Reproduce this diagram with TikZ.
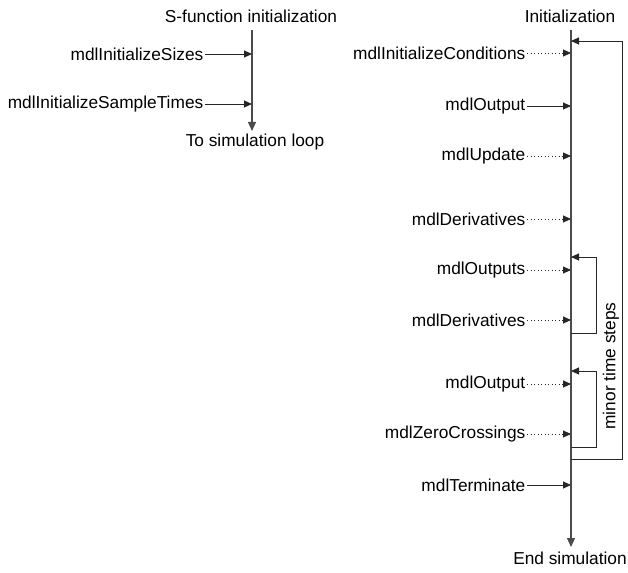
\documentclass[tikz,border=0pt]{standalone}
\usepackage{fontspec}
\setmainfont{Liberation Sans}
\usetikzlibrary{arrows.meta}
\begin{document}
\begin{tikzpicture}[x=1pt,y=-1pt,
  every node/.style={font=\fontsize{17.3}{21}\selectfont,inner sep=1.5pt,text=black},
  lbl/.style={anchor=east},
  ttl/.style={anchor=center},
  tip/.style={-{Triangle[length=8pt,width=7pt]}},
  conn/.style={tip,draw=black!85,line width=0.9pt},
  dconn/.style={tip,draw=black!85,line width=0.9pt,dash pattern=on 0.9pt off 2.6pt},
  mainline/.style={draw=black!70,line width=1.1pt},
  loopline/.style={draw=black!85,line width=0.9pt}]
\useasboundingbox (0,0) rectangle (628,572);
% left column
\node[ttl] (st) at (251,16) {S-function initialization};
\coordinate (ltop) at (252,30);
\coordinate (lbot) at (252,131);
\draw[mainline,-{Triangle[length=9pt,width=8pt]}] (ltop) -- (lbot);
\node[ttl] (tsl) at (255,142) {To simulation loop};
\node[lbl] (lis) at (205,54) {mdlInitializeSizes};
\coordinate (lisA) at (252,54);
\draw[conn] (lis.east) -- (lisA);
\node[lbl] (list) at (205,104) {mdlInitializeSampleTimes};
\coordinate (listA) at (252,104);
\draw[conn] (list.east) -- (listA);
% right column
\node[ttl] (init) at (570,16) {Initialization};
\coordinate (rtop) at (571,30);
\coordinate (rbot) at (571,547);
\draw[mainline,-{Triangle[length=9pt,width=8pt]}] (rtop) -- (rbot);
\node[ttl] (ends) at (570,558) {End simulation};
% rows
\foreach \nm/\y/\txt/\sty in {
  ic/53/mdlInitializeConditions/dconn,
  o1/106/mdlOutput/conn,
  up/156/mdlUpdate/dconn,
  d1/219/mdlDerivatives/dconn,
  o2/270/mdlOutputs/dconn,
  d2/320/mdlDerivatives/dconn,
  o3/384/mdlOutput/dconn,
  zc/434/mdlZeroCrossings/dconn,
  tm/485/mdlTerminate/conn}{
  \node[lbl] (\nm) at (527,\y) {\txt};
  \coordinate (\nm A) at (571,\y);
  \draw[\sty] (\nm.east) -- (\nm A);
}
% major loop
\coordinate (mjS) at (571,459);
\coordinate (mjE) at (571,41);
\draw[loopline,tip] (mjS) -| (622,41) -- (mjE);
% minor loops
\coordinate (m1S) at (571,333);
\coordinate (m1E) at (571,257);
\draw[loopline,tip] (m1S) -| (596,257) -- (m1E);
\coordinate (m2S) at (571,447);
\coordinate (m2E) at (571,371);
\draw[loopline,tip] (m2S) -| (596,371) -- (m2E);
\node[rotate=90] (mts) at (611,366) {minor time steps};
\end{tikzpicture}
\end{document}
